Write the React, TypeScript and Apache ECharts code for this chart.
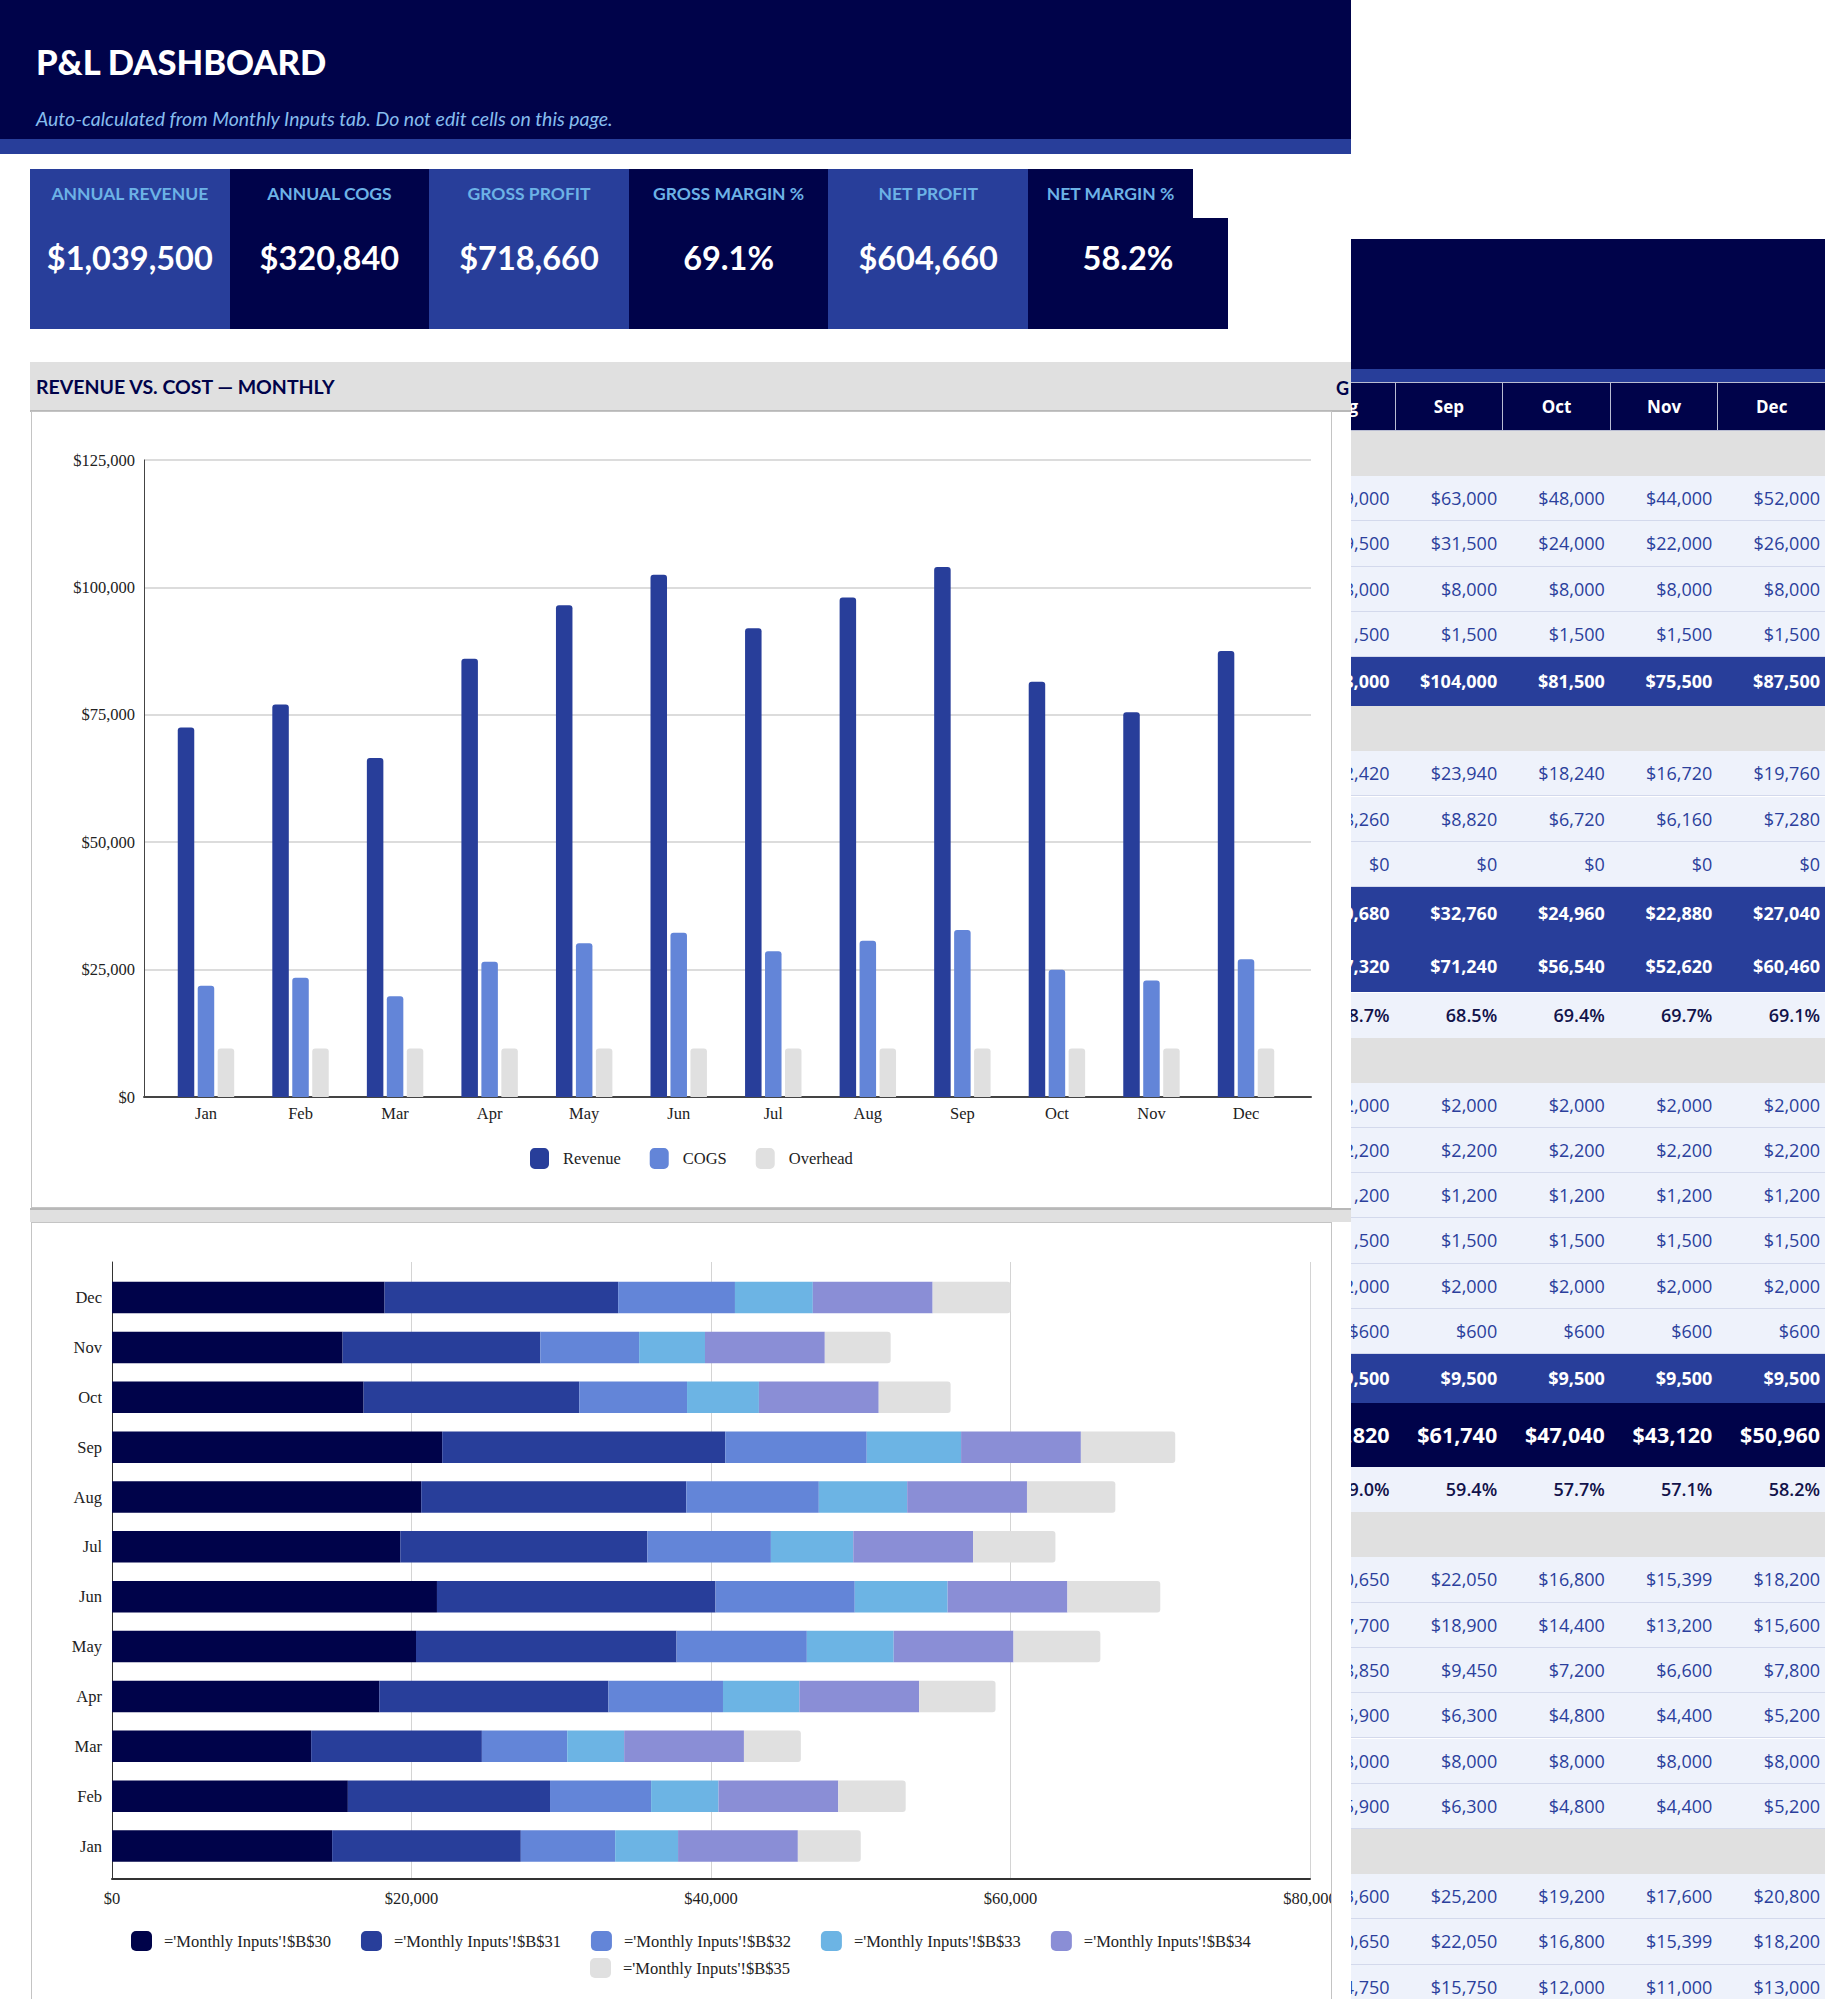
import React, { useEffect, useRef } from "react";
import * as echarts from "echarts";

// ---------- data ----------
const months = ["Jan", "Feb", "Mar", "Apr", "May", "Jun", "Jul", "Aug", "Sep", "Oct", "Nov", "Dec"];
const revenue = [72500, 77000, 66500, 86000, 96500, 102500, 92000, 98000, 104000, 81500, 75500, 87500];
const cogs = [21840, 23400, 19760, 26520, 30160, 32240, 28600, 30680, 32760, 24960, 22880, 27040];
const overhead = [9500, 9500, 9500, 9500, 9500, 9500, 9500, 9500, 9500, 9500, 9500, 9500];

const b30 = [14700, 15750, 13300, 17850, 20300, 21700, 19250, 20650, 22050, 16800, 15399, 18200];
const b31 = [12600, 13500, 11400, 15300, 17400, 18600, 16500, 17700, 18900, 14400, 13200, 15600];
const b32 = [6300, 6750, 5700, 7650, 8700, 9300, 8250, 8850, 9450, 7200, 6600, 7800];
const b33 = [4200, 4500, 3800, 5100, 5800, 6200, 5500, 5900, 6300, 4800, 4400, 5200];
const b34 = [8000, 8000, 8000, 8000, 8000, 8000, 8000, 8000, 8000, 8000, 8000, 8000];
const b35 = [4200, 4500, 3800, 5100, 5800, 6200, 5500, 5900, 6300, 4800, 4400, 5200];
const stackNames = [
  "='Monthly Inputs'!$B$30",
  "='Monthly Inputs'!$B$31",
  "='Monthly Inputs'!$B$32",
  "='Monthly Inputs'!$B$33",
  "='Monthly Inputs'!$B$34",
  "='Monthly Inputs'!$B$35",
];

const kpiLabels = ["ANNUAL REVENUE", "ANNUAL COGS", "GROSS PROFIT", "GROSS MARGIN %", "NET PROFIT", "NET MARGIN %"];
const kpiValues = ["$1,039,500", "$320,840", "$718,660", "69.1%", "$604,660", "58.2%"];

const tableMonths = ["Aug", "Sep", "Oct", "Nov", "Dec"];
const revA = [59000, 63000, 48000, 44000, 52000];
const revB = [29500, 31500, 24000, 22000, 26000];
const revC = [8000, 8000, 8000, 8000, 8000];
const revD = [1500, 1500, 1500, 1500, 1500];
const revTotal = [98000, 104000, 81500, 75500, 87500];
const cogsA = [22420, 23940, 18240, 16720, 19760];
const cogsB = [8260, 8820, 6720, 6160, 7280];
const cogsC = [0, 0, 0, 0, 0];
const cogsTotal = [30680, 32760, 24960, 22880, 27040];
const grossProfit = [67320, 71240, 56540, 52620, 60460];
const grossMargin = ["68.7%", "68.5%", "69.4%", "69.7%", "69.1%"];
const opA = [2000, 2000, 2000, 2000, 2000];
const opB = [2200, 2200, 2200, 2200, 2200];
const opC = [1200, 1200, 1200, 1200, 1200];
const opD = [1500, 1500, 1500, 1500, 1500];
const opE = [2000, 2000, 2000, 2000, 2000];
const opF = [600, 600, 600, 600, 600];
const opTotal = [9500, 9500, 9500, 9500, 9500];
const netProfit = [57820, 61740, 47040, 43120, 50960];
const netMargin = ["59.0%", "59.4%", "57.7%", "57.1%", "58.2%"];
const allocA = [20650, 22050, 16800, 15399, 18200];
const allocB = [17700, 18900, 14400, 13200, 15600];
const allocC = [8850, 9450, 7200, 6600, 7800];
const allocD = [5900, 6300, 4800, 4400, 5200];
const allocE = [8000, 8000, 8000, 8000, 8000];
const allocF = [5900, 6300, 4800, 4400, 5200];
const lastA = [23600, 25200, 19200, 17600, 20800];
const lastB = [20650, 22050, 16800, 15399, 18200];
const lastC = [14750, 15750, 12000, 11000, 13000];

// ---------- style ----------
const NAVY = "#00034a";
const BLUE = "#283e9a";
const MID = "#6385d8";
const SKY = "#6cb4e4";
const LAV = "#8a8ed6";
const GRAY = "#e0e0e0";
const LIGHT = "#eef2fb";
const TXT_BLUE = "#2b3f9c";
const SERIF = "'Liberation Serif', 'Times New Roman', serif";
const LATO = "Lato, 'Open Sans', sans-serif";
const OPEN = "'Open Sans', 'DejaVu Sans', sans-serif";

const money = (v: number) => "$" + Math.round(v).toLocaleString("en-US");

function EChart({ option, style }: { option: any; style: React.CSSProperties }) {
  const ref = useRef<HTMLDivElement>(null);
  useEffect(() => {
    const c = echarts.init(ref.current!, null, { renderer: "svg" });
    c.setOption(option);
    return () => c.dispose();
  }, []);
  return <div ref={ref} style={style} />;
}

const axisText = { fontFamily: SERIF, fontSize: 16.5, color: "#222" };

const option1 = {
  animation: false,
  grid: [
    { left: 113, right: 21, top: 49, bottom: 111 },
    { left: 127.7, right: 38.7, top: 49, bottom: 111 },
  ],
  xAxis: [
    {
      gridIndex: 0, type: "value", min: 0, max: 1,
      axisLine: { show: true, lineStyle: { color: "#444", width: 2 } },
      axisTick: { show: false }, axisLabel: { show: false }, splitLine: { show: false },
    },
    {
      gridIndex: 1, type: "category", data: months,
      axisLine: { show: false }, axisTick: { show: false },
      axisLabel: { ...axisText, margin: 8 },
    },
  ],
  yAxis: [
    {
      gridIndex: 0, type: "value", min: 0, max: 125000, interval: 25000,
      axisLine: { show: true, lineStyle: { color: "#444", width: 1 } },
      axisTick: { show: false },
      axisLabel: { ...axisText, margin: 9, formatter: money },
      splitLine: { lineStyle: { color: "#dcdcdc", width: 2 } },
    },
    { gridIndex: 1, type: "value", min: 0, max: 125000, show: false },
  ],
  legend: {
    left: 494, top: 732, itemWidth: 19, itemHeight: 21, itemGap: 29, icon: "roundRect",
    textStyle: { ...axisText, padding: [0, 0, 0, 9] },
    data: ["Revenue", "COGS", "Overhead"],
  },
  series: [
    { name: "Revenue", type: "bar", xAxisIndex: 1, yAxisIndex: 1, data: revenue, barWidth: 16.5, barGap: "21%", itemStyle: { color: BLUE, borderRadius: [3, 3, 0, 0] } },
    { name: "COGS", type: "bar", xAxisIndex: 1, yAxisIndex: 1, data: cogs, barWidth: 16.5, barGap: "21%", itemStyle: { color: MID, borderRadius: [3, 3, 0, 0] } },
    { name: "Overhead", type: "bar", xAxisIndex: 1, yAxisIndex: 1, data: overhead, barWidth: 16.5, barGap: "21%", itemStyle: { color: GRAY, borderRadius: [3, 3, 0, 0] } },
  ],
};

const stackData = [b30, b31, b32, b33, b34, b35];
const stackColors = [NAVY, BLUE, MID, SKY, LAV, GRAY];

// chart 2 is drawn 40px wider than its box and clipped, so the last tick label is cut like the reference
const option2 = {
  animation: false,
  grid: [
    { left: 81, right: 62, top: 40, bottom: 120 },
    { left: 81, right: 62, top: 50.6, bottom: 128 },
  ],
  xAxis: [
    {
      gridIndex: 0, type: "value", min: 0, max: 80000, interval: 20000,
      axisLine: { show: true, lineStyle: { color: "#333", width: 2 } },
      axisTick: { show: false },
      axisLabel: { ...axisText, margin: 11, formatter: money },
      splitLine: { lineStyle: { color: "#d4d4d4", width: 1 } },
    },
    { gridIndex: 1, type: "value", min: 0, max: 80000, show: false },
  ],
  yAxis: [
    {
      gridIndex: 0, type: "value", min: 0, max: 1,
      axisLine: { show: true, lineStyle: { color: "#333", width: 1 } },
      axisTick: { show: false }, axisLabel: { show: false }, splitLine: { show: false },
    },
    {
      gridIndex: 1, type: "category", data: months,
      axisLine: { show: false }, axisTick: { show: false },
      axisLabel: { ...axisText, margin: 10 },
    },
  ],
  legend: [
    {
      left: 95, top: 704, itemWidth: 21, itemHeight: 20, itemGap: 30, icon: "roundRect",
      textStyle: { ...axisText, padding: [0, 0, 0, 7] },
      data: stackNames.slice(0, 5),
    },
    {
      left: 554, top: 731, itemWidth: 21, itemHeight: 20, icon: "roundRect",
      textStyle: { ...axisText, padding: [0, 0, 0, 7] },
      data: stackNames.slice(5),
    },
  ],
  series: stackData.map((d, i) => ({
    name: stackNames[i], type: "bar", stack: "total", xAxisIndex: 1, yAxisIndex: 1,
    data: d, barWidth: 31.5,
    itemStyle: { color: stackColors[i], borderRadius: i === 5 ? [0, 3, 3, 0] : 0 },
  })),
};

// ---------- table layout ----------
type Row = { k: "gray" | "light" | "blue" | "blue2" | "margin" | "navy"; v?: (number | string)[] };
const tableRows: Row[] = [
  { k: "gray" },
  { k: "light", v: revA }, { k: "light", v: revB }, { k: "light", v: revC }, { k: "light", v: revD },
  { k: "blue", v: revTotal },
  { k: "gray" },
  { k: "light", v: cogsA }, { k: "light", v: cogsB }, { k: "light", v: cogsC },
  { k: "blue2", v: cogsTotal }, { k: "blue2", v: grossProfit },
  { k: "margin", v: grossMargin },
  { k: "gray" },
  { k: "light", v: opA }, { k: "light", v: opB }, { k: "light", v: opC },
  { k: "light", v: opD }, { k: "light", v: opE }, { k: "light", v: opF },
  { k: "blue", v: opTotal },
  { k: "navy", v: netProfit },
  { k: "margin", v: netMargin },
  { k: "gray" },
  { k: "light", v: allocA }, { k: "light", v: allocB }, { k: "light", v: allocC },
  { k: "light", v: allocD }, { k: "light", v: allocE }, { k: "light", v: allocF },
  { k: "gray" },
  { k: "light", v: lastA }, { k: "light", v: lastB }, { k: "light", v: lastC },
];
const rowH: Record<string, number> = { gray: 45, light: 45.3, blue: 49, blue2: 52.7, margin: 45, navy: 64 };
const COLW = 107.6;
const colLeft = (i: number) => -63 + i * COLW;

function Table() {
  let y = 431;
  const rows = tableRows.map((r, ri) => {
    const h = rowH[r.k];
    const top = y;
    y += h;
    let bg = LIGHT, color = TXT_BLUE, weight = 400, size = 18;
    if (r.k === "gray") bg = GRAY;
    if (r.k === "blue" || r.k === "blue2") { bg = BLUE; color = "#fff"; weight = 700; }
    if (r.k === "navy") { bg = NAVY; color = "#fff"; weight = 700; size = 21.5; }
    if (r.k === "margin") { color = "#12134a"; weight = 600; }
    return (
      <div key={ri} style={{
        position: "absolute", left: 0, top, width: 474, height: h, background: bg,
        borderBottom: r.k === "light" ? "1px solid #d3d9ec" : "none", boxSizing: "border-box",
      }}>
        {r.v && r.v.map((val, ci) => (
          <div key={ci} style={{
            position: "absolute", left: colLeft(ci), top: 0, width: COLW - 6, height: h,
            lineHeight: h + "px", textAlign: "right", fontFamily: OPEN, fontSize: size,
            fontWeight: weight, color, whiteSpace: "nowrap",
          }}>{typeof val === "number" ? money(val) : val}</div>
        ))}
      </div>
    );
  });
  return (
    <div style={{ position: "absolute", left: 1351, top: 0, width: 474, height: 1999, overflow: "hidden" }}>
      <div style={{ position: "absolute", left: 0, top: 239, width: 474, height: 130, background: NAVY }} />
      <div style={{ position: "absolute", left: 0, top: 369, width: 474, height: 13, background: BLUE }} />
      <div style={{ position: "absolute", left: 0, top: 382, width: 474, height: 49, background: NAVY }}>
        {tableMonths.map((m, ci) => (
          <div key={m} style={{
            position: "absolute", left: colLeft(ci), top: 0, width: COLW, height: 49, boxSizing: "border-box",
            border: "1px solid #b9bdd2", borderLeft: ci === 0 ? "1px solid #b9bdd2" : "none",
            lineHeight: "47px", textAlign: "center", fontFamily: OPEN, fontWeight: 700, fontSize: 17, color: "#fff",
          }}>{m}</div>
        ))}
      </div>
      {rows}
    </div>
  );
}

function Kpis() {
  const W = 199.6;
  return (
    <>
      {kpiLabels.map((lab, i) => {
        const left = 30 + i * W;
        const bg = i % 2 === 0 ? BLUE : NAVY;
        const last = i === 5;
        return (
          <React.Fragment key={lab}>
            <div style={{ position: "absolute", left, top: 169, width: last ? 165 : W, height: 160, background: bg }} />
            {last && <div style={{ position: "absolute", left, top: 218, width: 200, height: 111, background: bg }} />}
            <div style={{
              position: "absolute", left, top: 180, width: last ? 165 : W, height: 28, lineHeight: "28px",
              textAlign: "center", fontFamily: LATO, fontWeight: 700, fontSize: 17.5, color: "#6cb2e6", whiteSpace: "nowrap",
            }}>{lab}</div>
            <div style={{
              position: "absolute", left, top: 236, width: last ? 200 : W, height: 44, lineHeight: "44px",
              textAlign: "center", fontFamily: LATO, fontWeight: 700, fontSize: 32.5, color: "#fff", whiteSpace: "nowrap",
            }}>{kpiValues[i]}</div>
          </React.Fragment>
        );
      })}
    </>
  );
}

export default function App() {
  useEffect(() => {
    document.body.style.margin = "0";
  }, []);
  return (
    <div style={{ position: "fixed", left: 0, top: 0, width: 1825, height: 1999, overflow: "hidden", background: "#fff" }}>
      <Table />
      {/* header */}
      <div style={{ position: "absolute", left: 0, top: 0, width: 1351, height: 139, background: NAVY }} />
      <div style={{ position: "absolute", left: 0, top: 139, width: 1351, height: 15, background: BLUE }} />
      <div style={{
        position: "absolute", left: 36, top: 40, height: 44, lineHeight: "44px", fontFamily: LATO,
        fontWeight: 900, fontSize: 34.5, color: "#fff", whiteSpace: "nowrap",
      }}>P&amp;L DASHBOARD</div>
      <div style={{
        position: "absolute", left: 36, top: 106, height: 26, lineHeight: "26px", fontFamily: LATO,
        fontStyle: "italic", fontSize: 19.5, color: "#86bdee", whiteSpace: "nowrap",
      }}>Auto-calculated from Monthly Inputs tab. Do not edit cells on this page.</div>
      <Kpis />
      {/* section title */}
      <div style={{
        position: "absolute", left: 30, top: 362, width: 1321, height: 50, background: GRAY,
        borderBottom: "2px solid #b8b8b8", boxSizing: "border-box",
      }} />
      <div style={{
        position: "absolute", left: 36, top: 373, height: 28, lineHeight: "28px", fontFamily: LATO,
        fontWeight: 700, fontSize: 19.5, color: NAVY, whiteSpace: "nowrap",
      }}>REVENUE VS. COST — MONTHLY</div>
      <div style={{ position: "absolute", left: 1330, top: 374, width: 21, height: 28, overflow: "hidden" }}>
        <div style={{ position: "absolute", left: 6, top: 0, lineHeight: "28px", fontFamily: LATO, fontWeight: 700, fontSize: 18, color: NAVY }}>G</div>
      </div>
      {/* chart 1 box */}
      <div style={{ position: "absolute", left: 31, top: 411, width: 1301, height: 797, border: "1px solid #c4c4c4", boxSizing: "border-box", background: "#fff" }} />
      <EChart option={option1} style={{ position: "absolute", left: 31, top: 411, width: 1301, height: 797 }} />
      {/* gray band */}
      <div style={{ position: "absolute", left: 30, top: 1208, width: 1321, height: 14, background: GRAY, borderTop: "2px solid #b8b8b8", boxSizing: "border-box" }} />
      {/* chart 2 box */}
      <div style={{ position: "absolute", left: 31, top: 1222, width: 1301, height: 790, border: "1px solid #c4c4c4", boxSizing: "border-box", background: "#fff" }} />
      <div style={{ position: "absolute", left: 31, top: 1222, width: 1300, height: 777, overflow: "hidden" }}>
        <EChart option={option2} style={{ position: "absolute", left: 0, top: 0, width: 1341, height: 777 }} />
      </div>
    </div>
  );
}
